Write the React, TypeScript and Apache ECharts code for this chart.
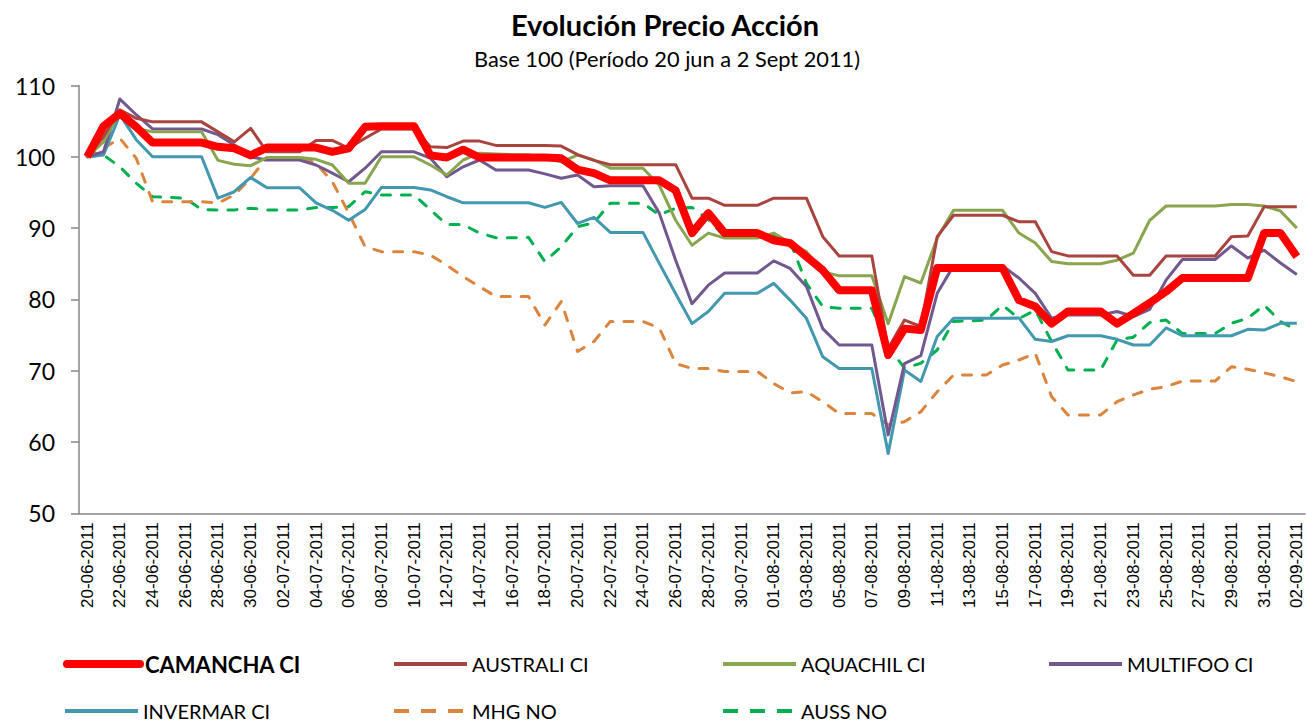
import React, { useEffect, useRef } from "react";
import * as echarts from "echarts";

const dates: string[] = [
  "20-06-2011","21-06-2011","22-06-2011","23-06-2011","24-06-2011","25-06-2011","26-06-2011","27-06-2011","28-06-2011","29-06-2011","30-06-2011",
  "01-07-2011","02-07-2011","03-07-2011","04-07-2011","05-07-2011","06-07-2011","07-07-2011","08-07-2011","09-07-2011","10-07-2011",
  "11-07-2011","12-07-2011","13-07-2011","14-07-2011","15-07-2011","16-07-2011","17-07-2011","18-07-2011","19-07-2011","20-07-2011",
  "21-07-2011","22-07-2011","23-07-2011","24-07-2011","25-07-2011","26-07-2011","27-07-2011","28-07-2011","29-07-2011","30-07-2011","31-07-2011",
  "01-08-2011","02-08-2011","03-08-2011","04-08-2011","05-08-2011","06-08-2011","07-08-2011","08-08-2011","09-08-2011","10-08-2011",
  "11-08-2011","12-08-2011","13-08-2011","14-08-2011","15-08-2011","16-08-2011","17-08-2011","18-08-2011","19-08-2011","20-08-2011",
  "21-08-2011","22-08-2011","23-08-2011","24-08-2011","25-08-2011","26-08-2011","27-08-2011","28-08-2011","29-08-2011","30-08-2011",
  "31-08-2011","01-09-2011","02-09-2011"
];

const camancha: number[] = [
  100,104.3,106.1,104.2,102,102,102,102,101.4,101.2,100.2,
  101.3,101.3,101.3,101.3,100.7,101.2,104.2,104.3,104.3,104.3,
  100.2,99.9,101,99.9,99.9,99.9,99.9,99.9,99.8,98.2,
  97.7,96.7,96.7,96.7,96.7,95.3,89.3,92.1,89.3,89.3,89.3,
  88.3,87.9,86,84.1,81.3,81.3,81.3,72.2,75.9,75.7,
  84.4,84.4,84.4,84.4,84.4,79.9,79,76.6,78.3,78.3,
  78.3,76.6,78,79.5,81.1,83,83,83,83,83,
  89.3,89.3,86
];

const australi: number[] = [
  100,102.8,106.6,105.4,104.9,104.9,104.9,104.9,103.5,102.1,104,
  100.7,100.7,100.7,102.3,102.3,101.2,102.6,103.9,103.9,103.9,
  101.4,101.3,102.2,102.2,101.6,101.6,101.6,101.6,101.5,100.3,
  99.5,98.9,98.9,98.9,98.9,98.9,94.2,94.2,93.2,93.2,93.2,
  94.2,94.2,94.2,88.8,86.1,86.1,86.1,73.1,77.1,76.2,
  88.8,91.8,91.8,91.8,91.8,90.9,90.9,86.7,86.1,86.1,
  86.1,86.1,83.4,83.4,86.1,86.1,86.1,86.1,88.8,88.9,
  93,93,93
];

const aquachil: number[] = [
  100,102.1,106.3,104,103.5,103.5,103.5,103.5,99.5,98.95,98.75,
  99.9,99.9,99.9,99.65,98.85,96.3,96.3,100,100,100,
  98.85,97.45,99.55,100.5,100.4,100.3,100.25,99.8,99.3,100.25,
  99.55,98.4,98.4,98.4,96,91.1,87.6,89.3,88.6,88.6,88.6,
  89.3,87.9,86.7,83.9,83.3,83.3,83.3,76.6,83.2,82.3,
  88.6,92.5,92.5,92.5,92.5,89.3,87.9,85.3,85,85,
  85,85.5,86.5,91.1,93.1,93.1,93.1,93.1,93.3,93.3,
  93.1,92.4,90
];

const multifoo: number[] = [
  100,100.7,108.1,105.9,103.9,103.9,103.9,103.9,103.1,101.65,100,
  99.55,99.55,99.55,98.85,97.7,96.5,98.4,100.7,100.7,100.7,
  99.8,97.2,98.6,99.55,98.15,98.15,98.15,97.6,97,97.45,
  95.8,95.95,95.95,95.95,92.1,85.5,79.4,82,83.7,83.7,83.7,
  85.4,84.35,81.8,75.9,73.6,73.6,73.6,61,71,72.1,
  80.85,84.7,84.7,84.7,84.7,83,80.85,77.35,77.8,77.8,
  77.8,78.3,77.6,78.6,82.7,85.6,85.6,85.6,87.5,85.8,
  86.9,85.1,83.5
];

const invermar: number[] = [
  100,100.25,105.9,102.4,100,100,100,100,94.2,95.1,97.1,
  95.65,95.65,95.65,93.55,92.5,91.1,92.6,95.7,95.7,95.7,
  95.35,94.4,93.55,93.55,93.55,93.55,93.55,92.9,93.6,90.65,
  91.5,89.4,89.4,89.4,85.05,80.8,76.6,78.3,80.85,80.85,80.85,
  82.25,79.9,77.35,71.95,70.3,70.3,70.3,58.4,70.1,68.5,
  74.8,77.35,77.35,77.35,77.35,77.4,74.4,74.1,74.9,74.9,
  74.9,74.4,73.6,73.6,76,74.9,74.9,74.9,74.9,75.8,
  75.7,76.65,76.65
];

const mhg: number[] = [
  100,101.2,102.6,99.8,93.7,93.7,93.7,93.7,93.5,94.65,97,
  99.9,99.9,99.9,99.1,96.5,92.1,87.4,86.7,86.7,86.7,
  86.2,84.8,83.2,81.8,80.4,80.4,80.4,76.4,79.7,72.7,
  74.1,76.9,76.9,76.9,76,71,70.3,70.3,69.9,69.9,69.9,
  68.2,66.9,67.05,65.65,64,64,64,62.4,62.85,64.25,
  67.05,69.4,69.4,69.4,70.8,71.5,72.45,66.35,63.8,63.8,
  63.8,65.65,66.6,67.4,67.75,68.55,68.55,68.55,70.55,70.2,
  69.7,69.15,68.45
];

const auss: number[] = [
  100,100.25,98.6,96.3,94.4,94.3,94.2,92.6,92.55,92.55,92.8,
  92.55,92.55,92.55,92.9,92.9,93,95.1,94.65,94.65,94.65,
  92.55,90.5,90.5,89.3,88.65,88.65,88.7,85.3,87.4,90.2,
  90.75,93.5,93.5,93.5,91.85,92.8,92.9,91.2,88.8,88.8,88.8,
  89,88.1,82.25,79,78.75,78.75,78.75,73.4,70.35,71.05,
  72.9,76.9,77,77.1,79.2,77.3,78.5,74.1,70.1,70.1,
  70.1,74.3,74.7,76.75,77.1,75.2,75.2,75.2,76.65,77.35,
  79.2,76.9,75.7
];

const seriesNames = ["CAMANCHA CI", "AUSTRALI CI", "AQUACHIL CI", "MULTIFOO CI", "INVERMAR CI", "MHG NO", "AUSS NO"];
const seriesData = [camancha, australi, aquachil, multifoo, invermar, mhg, auss];
const seriesColors = ["#FF0000", "#A9443F", "#89A54E", "#71588F", "#4198AF", "#DB843D", "#00B050"];
const seriesWidths = [8, 3, 3, 3, 3, 3, 3];
const seriesDashed = [false, false, false, false, false, true, true];

const FONT = "Lato, 'Noto Sans', sans-serif";

export default function App() {
  const ref = useRef<HTMLDivElement>(null);
  useEffect(() => {
    if (!ref.current) return;
    const chart = echarts.init(ref.current, undefined, { renderer: "svg" });

    const legendPos = [
      [63, 652], [392, 652], [721, 652], [1047, 652],
      [63, 699], [392, 699], [721, 699],
    ];

    const legends = seriesNames.map((name, i) => ({
      data: [name],
      left: legendPos[i][0],
      top: legendPos[i][1],
      padding: 0,
      itemWidth: 73,
      itemHeight: 14,
      selectedMode: false,
      itemStyle: { opacity: 0, color: "rgba(0,0,0,0)", borderWidth: 0 },
      lineStyle: {
        width: i === 0 ? 8 : 4,
        type: seriesDashed[i] ? [15, 12] : "solid",
        cap: i === 0 ? "round" : "butt",
      },
      textStyle: {
        fontFamily: FONT,
        fontSize: i === 0 ? 22 : 20,
        color: "#000",
        fontWeight: i === 0 ? "bold" : "normal",
        lineHeight: 24,
      },
    }));

    const option: any = {
      animation: false,
      backgroundColor: "#fff",
      title: [
        {
          text: "Evolución Precio Acción",
          left: 660,
          top: 5,
          textAlign: "center",
          textStyle: { fontFamily: FONT, fontSize: 29, fontWeight: "bold", color: "#000" },
        },
        {
          text: "Base 100 (Período 20 jun a 2 Sept 2011)",
          left: 662,
          top: 42,
          textAlign: "center",
          textStyle: { fontFamily: FONT, fontSize: 21.8, fontWeight: "normal", color: "#000" },
        },
      ],
      legend: legends,
      grid: { left: 79, right: 2, top: 85.5, bottom: 209.7, containLabel: false },
      xAxis: {
        type: "category",
        data: dates,
        boundaryGap: true,
        axisLine: { lineStyle: { color: "#868686", width: 1.5 } },
        axisTick: { interval: 1, length: 7, lineStyle: { color: "#868686", width: 1.5 } },
        axisLabel: {
          interval: 1,
          rotate: 90,
          margin: 9,
          fontFamily: "'Liberation Sans', Arial, sans-serif",
          fontSize: 17,
          color: "#000",
        },
        splitLine: { show: false },
      },
      yAxis: {
        type: "value",
        min: 50,
        max: 110,
        interval: 10,
        axisLine: { show: true, lineStyle: { color: "#868686", width: 1.5 } },
        axisTick: { show: true, length: 8, lineStyle: { color: "#868686", width: 1.5 } },
        axisLabel: { fontFamily: FONT, fontSize: 23, color: "#000", margin: 24 },
        splitLine: { show: false },
      },
      series: seriesNames.map((name, i) => ({
        name,
        type: "line",
        data: seriesData[i],
        symbol: "none",
        showSymbol: false,
        z: 10 - i,
        lineStyle: {
          color: seriesColors[i],
          width: seriesWidths[i],
          type: seriesDashed[i] ? [9, 11] : "solid",
          cap: seriesDashed[i] ? "round" : "butt",
          join: "round",
        },
        itemStyle: { color: seriesColors[i] },
      })),
    };
    chart.setOption(option);
    return () => chart.dispose();
  }, []);

  return (
    <div
      ref={ref}
      style={{ position: "absolute", left: 0, top: 0, width: 1307, height: 723 }}
    />
  );
}
